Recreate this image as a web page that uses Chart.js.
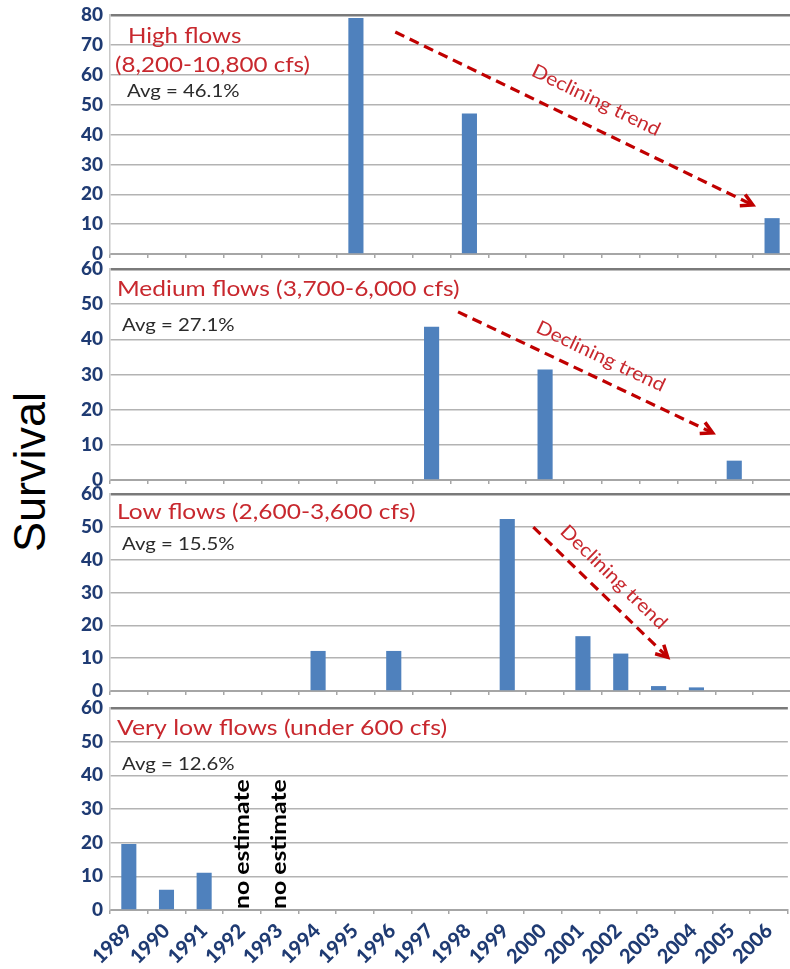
<!DOCTYPE html>
<html><head><meta charset="utf-8">
<script src="https://cdn.jsdelivr.net/npm/chart.js@4.4.0/dist/chart.umd.min.js"></script>
<style>
html,body{margin:0;padding:0;background:#fff;width:790px;height:969px;overflow:hidden;position:relative;}
.panel{position:absolute;left:0;width:791px;}
#survival{position:absolute;left:29px;top:472px;transform:translate(-50%,-50%) rotate(-90deg);font-family:"Liberation Sans",Arial,sans-serif;font-size:45px;color:#000;white-space:nowrap;line-height:1;}
</style></head><body>
<div id="survival">Survival</div>
<div class="panel" style="top:0px;height:262px"><canvas id="c1"></canvas></div>
<div class="panel" style="top:258px;height:230px"><canvas id="c2"></canvas></div>
<div class="panel" style="top:484px;height:215px"><canvas id="c3"></canvas></div>
<div class="panel" style="top:698px;height:271px"><canvas id="c4"></canvas></div>
<script>
// ---- data ----
const years = ['1989','1990','1991','1992','1993','1994','1995','1996','1997','1998','1999','2000','2001','2002','2003','2004','2005','2006'];
const highFlows    = [null,null,null,null,null,null,79,null,null,47,null,null,null,null,null,null,null,12];
const mediumFlows  = [null,null,null,null,null,null,null,null,43.6,null,null,31.4,null,null,null,null,5.5,null];
const lowFlows     = [null,null,null,null,null,12.2,null,12.2,null,null,52.4,null,16.7,11.4,1.5,1.1,null,null];
const veryLowFlows = [19.6,6,11.1,null,null,null,null,null,null,null,null,null,null,null,null,null,null,null];
const yTicksHigh  = [0,10,20,30,40,50,60,70,80];
const yTicksOther = [0,10,20,30,40,50,60];
const panelTitles = [['High flows','(8,200-10,800 cfs)'],['Medium flows (3,700-6,000 cfs)'],['Low flows (2,600-3,600 cfs)'],['Very low flows (under 600 cfs)']];
const panelAverages = ['Avg = 46.1%','Avg = 27.1%','Avg = 15.5%','Avg = 12.6%'];
const trendLabel = 'Declining trend';
const trendStart = [[7.04,74.3],[8.7,47.8],[10.69,49.9]];
const trendEnd   = [[16.49,16.4],[15.43,13.4],[14.24,10.3]];
const noEstimateYears = ['1992','1993'];
const noEstimateLabel = 'no estimate';

// ---- styling ----
const BAR = '#4f81bd';
const NAVY = '#1f3b73';
const RED = '#c8282e';
const ARROW = '#c00000';

function drawText(ctx, text, x, y, font, color, sx, angle, align, baseline){
  ctx.save();
  ctx.translate(x, y);
  if (angle) ctx.rotate(angle);
  ctx.scale(sx, 1);
  ctx.font = font; ctx.fillStyle = color;
  ctx.textAlign = align || 'left'; ctx.textBaseline = baseline || 'alphabetic';
  ctx.fillText(text, 0, 0);
  ctx.restore();
}

const deco = {
  id: 'deco',
  afterDatasetsDraw(chart, args, o){
    const ctx = chart.ctx, ca = chart.chartArea, xs = chart.scales.x, ys = chart.scales.y;
    ctx.save();
    o.titles.forEach((t, i) => {
      const off = o.titleOffsets[i];
      drawText(ctx, t, ca.left + off[0], ca.top + off[1], o.titleSize + 'px Lato', RED, 1.15);
    });
    drawText(ctx, o.avg, ca.left + o.avgOffset[0], ca.top + o.avgOffset[1], '18px Lato', '#2b2b2b', 1.13);
    if (o.trend !== undefined && o.trend !== null){
      const s = trendStart[o.trend], e = trendEnd[o.trend];
      const x1 = xs.getPixelForValue(s[0]), y1 = ys.getPixelForValue(s[1]);
      const x2 = xs.getPixelForValue(e[0]), y2 = ys.getPixelForValue(e[1]);
      const a = Math.atan2(y2 - y1, x2 - x1);
      ctx.strokeStyle = ARROW; ctx.lineWidth = 3.2; ctx.lineCap = 'butt';
      ctx.setLineDash([10, 6]);
      ctx.beginPath(); ctx.moveTo(x1, y1); ctx.lineTo(x2 - 3*Math.cos(a), y2 - 3*Math.sin(a)); ctx.stroke();
      ctx.setLineDash([]);
      ctx.lineWidth = 3.5; ctx.lineJoin = 'miter';
      const h = 13, w = 0.5;
      ctx.beginPath();
      ctx.moveTo(x2 - h*Math.cos(a - w), y2 - h*Math.sin(a - w));
      ctx.lineTo(x2, y2);
      ctx.lineTo(x2 - h*Math.cos(a + w), y2 - h*Math.sin(a + w));
      ctx.stroke();
      const mx = (x1 + x2)/2 + o.trendText.along*Math.cos(a) + o.trendText.perp*Math.sin(a);
      const my = (y1 + y2)/2 + o.trendText.along*Math.sin(a) - o.trendText.perp*Math.cos(a);
      drawText(ctx, trendLabel, mx, my, '19px Lato', RED, 1.1, a, 'center', 'middle');
    }
    if (o.noEstimate){
      noEstimateYears.forEach(y => {
        const x = xs.getPixelForValue(years.indexOf(y));
        drawText(ctx, noEstimateLabel, x, ca.bottom - 1, 'bold 21px Lato', '#000', 1.18, -Math.PI/2, 'left', 'middle');
      });
    }
    ctx.restore();
  }
};

function makePanel(id, values, ticks, cfg){
  const maxV = ticks[ticks.length - 1];
  const step = ticks[1] - ticks[0];
  return new Chart(document.getElementById(id), {
    type: 'bar',
    data: { labels: years, datasets: [{ data: values, backgroundColor: BAR, borderWidth: 0, categoryPercentage: 1, barPercentage: 0.4 }] },
    plugins: [deco],
    options: {
      responsive: true, maintainAspectRatio: false, animation: false,
      layout: { padding: { top: cfg.padTop, left: 0, right: 0, bottom: 0 } },
      plugins: {
        legend: { display: false }, tooltip: { enabled: false },
        deco: cfg.deco
      },
      scales: {
        x: {
          grid: { display: true, drawOnChartArea: false, drawTicks: true, tickLength: 4, color: '#a6a6a6', lineWidth: 1.5 },
          border: { display: true, color: '#a6a6a6', width: 2 },
          ticks: { display: cfg.showX, autoSkip: false, minRotation: 45, maxRotation: 45, padding: 5,
                   color: NAVY, font: { family: 'Lato', weight: '900', size: 20 } },
          afterFit(s){ s.height = cfg.xH; }
        },
        y: {
          min: 0, max: maxV,
          grid: { drawTicks: false,
                  color: c => (c.tick && c.tick.value === maxV) ? '#7a7a7a' : '#b3b3b3',
                  lineWidth: c => (c.tick && c.tick.value === maxV) ? 2.5 : 1.5 },
          border: { display: true, color: '#c8c8c8', width: 1.5 },
          ticks: { stepSize: step, padding: 7, color: NAVY, font: { family: 'Lato', weight: '900', size: 19 } },
          afterFit(s){ s.width = 110; s.paddingTop = 0; s.paddingBottom = 0; }
        }
      }
    }
  });
}

makePanel('c1', highFlows, yTicksHigh, { padTop: 15, xH: 8, showX: false,
  deco: { titles: panelTitles[0], titleOffsets: [[18,28],[5,57]], titleSize: 21, avg: panelAverages[0], avgOffset: [17,82], trend: 0, trendText: { along: 12, perp: 26 } } });
makePanel('c2', mediumFlows, yTicksOther, { padTop: 11, xH: 8, showX: false,
  deco: { titles: panelTitles[1], titleOffsets: [[7,27]], titleSize: 21.3, avg: panelAverages[1], avgOffset: [12,62], trend: 1, trendText: { along: 7, perp: 21 } } });
makePanel('c3', lowFlows, yTicksOther, { padTop: 10, xH: 8, showX: false,
  deco: { titles: panelTitles[2], titleOffsets: [[7,25]], titleSize: 21.3, avg: panelAverages[2], avgOffset: [12,56], trend: 2, trendText: { along: -1, perp: 20 } } });
makePanel('c4', veryLowFlows, yTicksOther, { padTop: 10, xH: 59, showX: true,
  deco: { titles: panelTitles[3], titleOffsets: [[7,27]], titleSize: 21.6, avg: panelAverages[3], avgOffset: [12,62], trend: null, noEstimate: true } });
</script>
</body></html>
